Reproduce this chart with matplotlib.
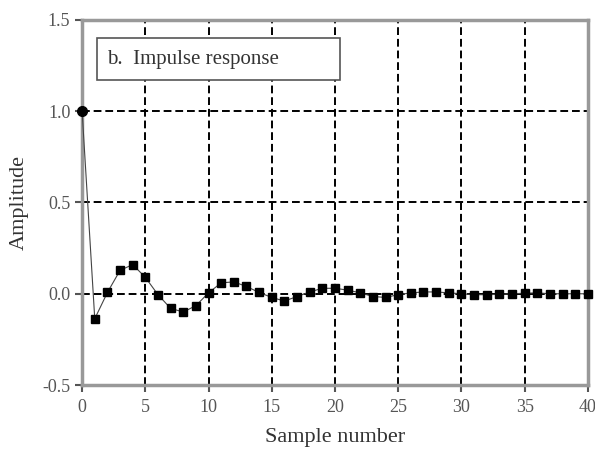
import matplotlib.pyplot as plt
from matplotlib.patches import Rectangle

# Data
sample = list(range(41))
amplitude = [1.0, -0.137, 0.007, 0.128, 0.16, 0.09, -0.005, -0.08, -0.1, -0.065,
             0.005, 0.06, 0.065, 0.04, 0.007, -0.02, -0.04, -0.015, 0.01, 0.03,
             0.03, 0.02, 0.005, -0.015, -0.02, -0.005, 0.005, 0.01, 0.01, 0.005,
             0.0, -0.005, -0.005, -0.003, 0.0, 0.003, 0.005, 0.0, 0.0, 0.0, 0.0]
xticks = [0, 5, 10, 15, 20, 25, 30, 35, 40]
yticks = [-0.5, 0.0, 0.5, 1.0, 1.5]

plt.rcParams['font.family'] = ['Liberation Serif', 'DejaVu Serif']

fig = plt.figure(figsize=(5.95, 4.53), dpi=100)
ax = fig.add_axes([0.138, 0.15, 0.850, 0.806])

# dashed grid
for x in xticks[1:-1]:
    ax.axvline(x, color='black', lw=1.4, ls=(0, (4, 2)), zorder=1)
for y in yticks[1:-1]:
    ax.axhline(y, color='black', lw=1.4, ls=(0, (4, 2)), zorder=1)

ax.plot(sample, amplitude, color='#444444', lw=0.8, zorder=3)
ax.plot(sample[1:], amplitude[1:], ls='none', marker='s', ms=6, color='black', zorder=4,
        clip_on=False)
ax.plot(sample[:1], amplitude[:1], ls='none', marker='o', ms=7, color='black', zorder=4,
        clip_on=False)

ax.set_xlim(0, 40)
ax.set_ylim(-0.5, 1.5)
ax.set_xticks(xticks)
ax.set_yticks(yticks)
ax.set_xticklabels([str(x) for x in xticks])
ax.set_yticklabels(['-0.5', '0.0', '0.5', '1.0', '1.5'])
ax.tick_params(colors='#555555', labelsize=13, length=5, width=1.5, direction='out')
ax.tick_params(axis='x', pad=5)
for s in ax.spines.values():
    s.set_color('#999999')
    s.set_linewidth(2.5)

ax.set_xlabel('Sample number', fontsize=16, color='#333333', labelpad=9)
ax.set_ylabel('Amplitude', fontsize=16, color='#333333', labelpad=10)

# title box
ax.add_patch(Rectangle((1.2, 1.17), 19.2, 0.23, facecolor='white', edgecolor='#555555',
                       lw=1.2, zorder=5))
ax.text(2.0, 1.285, 'b.  Impulse response', fontsize=15, color='#333333',
        va='center', ha='left', zorder=6)

fig.savefig('out.png', dpi=100)
